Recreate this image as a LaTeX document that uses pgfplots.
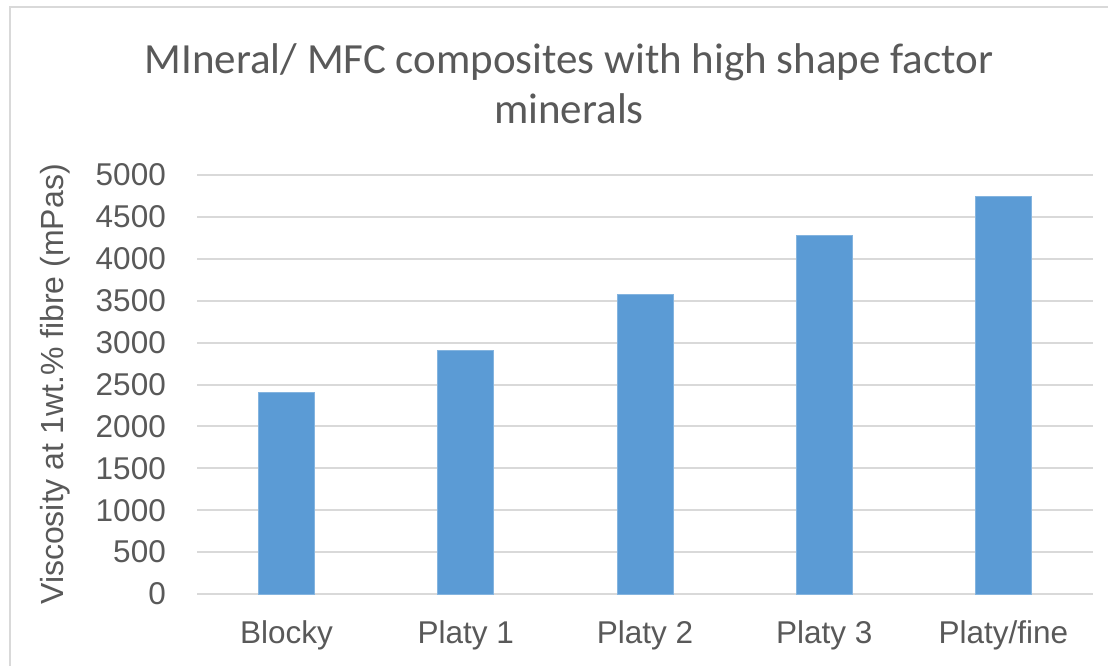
\documentclass[border=0pt]{standalone}
\usepackage{pgfplots}
\pgfplotsset{compat=1.18}
\usepackage{fontspec}
\setmainfont{Liberation Sans}
\newfontfamily\titlefont{Carlito}
\definecolor{barblue}{HTML}{5B9BD5}
\definecolor{gridgray}{HTML}{D9D9D9}
\definecolor{txt}{HTML}{595959}
\begin{document}
\begin{tikzpicture}[x=1pt,y=1pt]
\useasboundingbox (0,0) rectangle (1108,665);
\fill[white] (0,0) rectangle (1108,665);
\draw[gridgray, line width=2.5pt] (10,-2) -- (10,658) -- (1110,658);
\node[font=\titlefont\fontsize{43}{50}\selectfont, text=txt, align=center] at (569,581) {MIneral/ MFC composites with high shape factor\\minerals};
\begin{axis}[
  at={(197pt,71pt)}, anchor=south west,
  scale only axis, width=896pt, height=419pt,
  xmin=-0.5, xmax=4.5, ymin=0, ymax=5000,
  ytick={0,500,...,5000},
  xtick={0,1,2,3,4},
  xticklabels={Blocky,Platy 1,Platy 2,Platy 3,Platy/fine},
  axis line style={draw=none},
  major tick length=0pt,
  ymajorgrids,
  major grid style={gridgray, line width=2pt},
  tick label style={font=\fontsize{31.5}{31.5}\selectfont, text=txt},
  /pgf/number format/assume math mode=true,
  yticklabel={\pgfmathprintnumber[fixed,precision=0,1000 sep={}]{\tick}},
  yticklabel style={anchor=east, inner sep=0pt, xshift=-31pt},
  xticklabel style={anchor=north, inner sep=0pt, yshift=-26pt},
  ylabel={Viscosity at 1wt.\% fibre (mPas)},
  ylabel style={at={(axis description cs:-0.1585,0.5)}, anchor=center, font=\fontsize{32}{32}\selectfont, text=txt},
  ybar, bar width=56pt,
  clip=false,
]
\addplot[fill=barblue, draw=barblue!75!white, line width=0.8pt] coordinates {
  (0,2407) (1,2903) (2,3576) (3,4284) (4,4746)
};
\end{axis}
\end{tikzpicture}
\end{document}
